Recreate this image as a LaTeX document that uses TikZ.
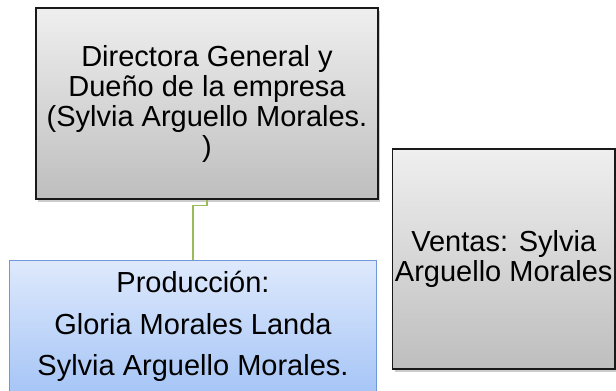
\documentclass[tikz,border=0pt]{standalone}
\usepackage{fontspec}
\setmainfont{Liberation Sans}
\usetikzlibrary{shadows}
\definecolor{gtop}{HTML}{EFEFEF}
\definecolor{gbot}{HTML}{BEBEBE}
\definecolor{btop}{HTML}{DEE9FC}
\definecolor{bbot}{HTML}{A6C5F6}
\definecolor{bborder}{HTML}{6E98D8}
\definecolor{conn}{HTML}{9BBB59}
\begin{document}
\begin{tikzpicture}[x=1bp,y=1bp,
  graybox/.style={draw=black!90, line width=1.5bp, top color=gtop, bottom color=gbot,
    inner sep=0pt, align=center,
    drop shadow={shadow xshift=2bp, shadow yshift=-3bp, opacity=0.2, fill=black}},
  bluebox/.style={draw=bborder, line width=1bp, top color=btop, bottom color=bbot,
    inner sep=0pt, align=center},
  bigtext/.style={font=\fontsize{29bp}{30bp}\selectfont},
  prodtext/.style={font=\fontsize{29bp}{41.6bp}\selectfont},
  link/.style={draw=conn, line width=1.3bp}]
\useasboundingbox (0,0) rectangle (616,390);
\clip (0,0) rectangle (616,390);
\node[graybox, bigtext, minimum width=342bp, minimum height=191bp] (dir) at (207,286.5)
  {Directora General y\\Dueño de la empresa\\(Sylvia Arguello Morales.\\)};
\node[graybox, bigtext, minimum width=222.5bp, minimum height=220bp] (ventas) at (503.75,131)
  {Ventas: Sylvia\\Arguello Morales};
\node[bluebox, prodtext, minimum width=366bp, minimum height=133bp] (prod) at (193,63.5)
  {Producción:\\Gloria Morales Landa\\Sylvia Arguello Morales.};
\path[link] (dir.south) -- ++(0,-6) -| (prod.north);
\end{tikzpicture}
\end{document}
